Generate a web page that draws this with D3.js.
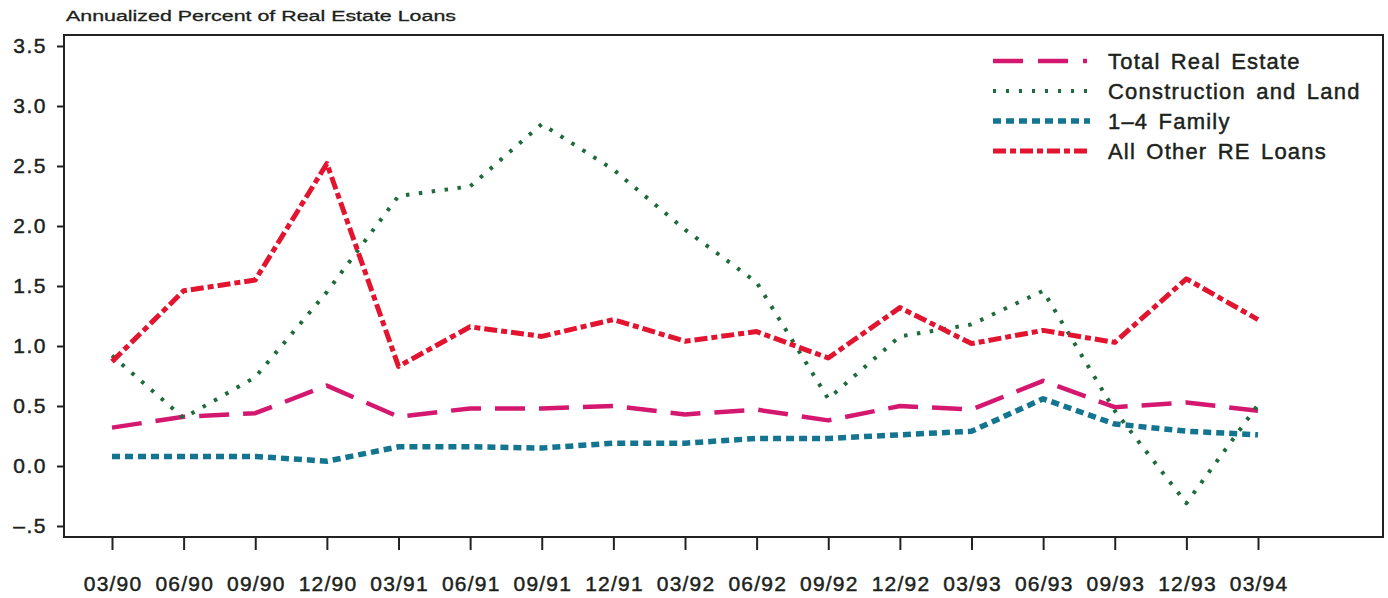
<!DOCTYPE html>
<html>
<head>
<meta charset="utf-8">
<script src="https://cdn.jsdelivr.net/npm/d3@7"></script>
<style>
  html, body { margin: 0; padding: 0; background: #fff; }
  svg { display: block; font-family: "Liberation Sans", Arial, Helvetica, sans-serif; }
  .lbl { fill: #1b221b; stroke: #1b221b; stroke-width: 0.45px; }
</style>
</head>
<body>
<svg id="chart" width="1388" height="598"></svg>
<script>
// Quarter-end labels
const quarters = ["03/90","06/90","09/90","12/90","03/91","06/91","09/91","12/91",
                  "03/92","06/92","09/92","12/92","03/93","06/93","09/93","12/93","03/94"];

// Annualized percent of real estate loans, by loan type
const totalRealEstate = [0.32,0.41,0.44,0.67,0.41,0.48,0.48,0.50,0.43,0.47,0.38,0.50,0.47,0.71,0.49,0.53,0.46];
const constructionLand = [0.92,0.40,0.74,1.45,2.25,2.33,2.85,2.47,1.97,1.53,0.56,1.08,1.18,1.46,0.46,-0.31,0.51];
const oneToFourFamily = [0.08,0.08,0.08,0.04,0.16,0.16,0.15,0.19,0.19,0.23,0.23,0.26,0.29,0.56,0.35,0.29,0.26];
const allOtherRE = [0.87,1.46,1.55,2.52,0.83,1.16,1.08,1.22,1.04,1.12,0.90,1.32,1.02,1.13,1.03,1.56,1.22];

const yTicks = [-0.5,0,0.5,1,1.5,2,2.5,3,3.5];
const yTickLabels = ["\u2013.5","0.0","0.5","1.0","1.5","2.0","2.5","3.0","3.5"];

const seriesNames = ["Total Real Estate","Construction and Land","1\u20134 Family","All Other RE Loans"];

const series = [
  { name: seriesNames[0], values: totalRealEstate, color: "#d4186f", width: 4.5, dash: "30,14", legendDash: "30,15,30,15,4,10" },
  { name: seriesNames[1], values: constructionLand, color: "#1f6b3c", width: 4, dash: "3.5,9.5", legendDash: "3,10" },
  { name: seriesNames[2], values: oneToFourFamily, color: "#137590", width: 5.5, dash: "8,5", legendDash: "8,5" },
  { name: seriesNames[3], values: allOtherRE, color: "#e2142f", width: 5, dash: "13,4,6,4", legendDash: "13,4,6,4" }
];

const svg = d3.select("#chart");

const frame = { left: 64, right: 1383, top: 35, bottom: 537 };

const x = d3.scalePoint().domain(quarters).range([112, 1258]);
const y = d3.scaleLinear().domain([-0.5, 3.5]).range([526, 46]);

// Title
svg.append("text")
  .attr("class", "lbl")
  .attr("x", 66).attr("y", 21)
  .attr("font-size", 15.5)
  .style("stroke-width", "0.3px")
  .attr("textLength", 390)
  .attr("lengthAdjust", "spacingAndGlyphs")
  .text("Annualized Percent of Real Estate Loans");

// Plot frame
svg.append("rect")
  .attr("x", frame.left).attr("y", frame.top)
  .attr("width", frame.right - frame.left)
  .attr("height", frame.bottom - frame.top)
  .attr("fill", "none")
  .attr("stroke", "#222")
  .attr("stroke-width", 2);

// Y axis
const yAxis = d3.axisLeft(y)
  .tickValues(yTicks)
  .tickSize(7)
  .tickPadding(10)
  .tickFormat((d, i) => yTickLabels[i]);

const gy = svg.append("g")
  .attr("transform", `translate(${frame.left},0)`)
  .call(yAxis);
gy.select(".domain").remove();
gy.selectAll(".tick line").attr("stroke", "#222").attr("stroke-width", 2);
gy.selectAll(".tick text")
  .attr("class", "lbl")
  .attr("font-size", 21)
  .attr("letter-spacing", 1.5)
  .attr("font-family", "'Liberation Sans', Arial, sans-serif");

// X axis
const xAxis = d3.axisBottom(x)
  .tickSize(13)
  .tickPadding(26);

const gx = svg.append("g")
  .attr("transform", `translate(0,${frame.bottom})`)
  .call(xAxis);
gx.select(".domain").remove();
gx.selectAll(".tick line").attr("stroke", "#222").attr("stroke-width", 2);
gx.selectAll(".tick text")
  .attr("class", "lbl")
  .attr("font-size", 21)
  .attr("letter-spacing", 1.2)
  .attr("dx", 0.6)
  .attr("font-family", "'Liberation Sans', Arial, sans-serif");

// Series lines
const line = d3.line()
  .x((d, i) => x(quarters[i]))
  .y(d => y(d));

svg.append("g").selectAll("path")
  .data(series)
  .join("path")
  .attr("d", s => line(s.values))
  .attr("fill", "none")
  .attr("stroke", s => s.color)
  .attr("stroke-width", s => s.width)
  .attr("stroke-dasharray", s => s.dash)
  .attr("stroke-linejoin", "round");

// Legend
const legend = svg.append("g");
const legendRows = [61, 91, 121, 151];
series.forEach((s, i) => {
  legend.append("line")
    .attr("x1", 993).attr("x2", 1090)
    .attr("y1", legendRows[i]).attr("y2", legendRows[i])
    .attr("stroke", s.color)
    .attr("stroke-width", s.width)
    .attr("stroke-dasharray", s.legendDash);
  legend.append("text")
    .attr("class", "lbl")
    .attr("x", 1108).attr("y", legendRows[i])
    .attr("dy", "0.35em")
    .attr("font-size", 22)
    .attr("letter-spacing", 1.2)
    .attr("word-spacing", 3)
    .text(s.name);
});
</script>
</body>
</html>
